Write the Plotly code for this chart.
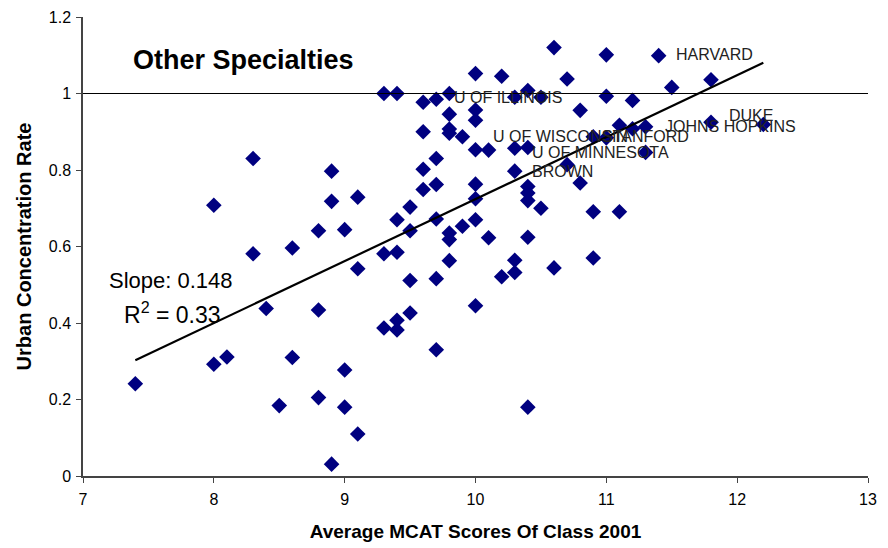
import numpy as np
import plotly.graph_objects as go

# Average MCAT score and urban concentration rate per school, grouped by MCAT score
mcat_levels = [7.4, 8.0, 8.1, 8.3, 8.4, 8.5, 8.6, 8.8, 8.9, 9.0, 9.1, 9.3, 9.4, 9.5,
               9.6, 9.7, 9.8, 9.9, 10.0, 10.1, 10.2, 10.3, 10.4, 10.5, 10.6, 10.7,
               10.8, 10.9, 11.0, 11.1, 11.2, 11.3, 11.4, 11.5, 11.8, 12.2]
urban_rates = [
    [0.241],
    [0.708, 0.292],
    [0.311],
    [0.830, 0.581],
    [0.438],
    [0.184],
    [0.596, 0.310],
    [0.641, 0.434, 0.205],
    [0.797, 0.718, 0.031],
    [0.644, 0.277, 0.180],
    [0.729, 0.542, 0.110],
    [1.000, 0.581, 0.387],
    [1.000, 0.670, 0.585, 0.407, 0.382],
    [0.703, 0.641, 0.511, 0.426],
    [0.977, 0.900, 0.802, 0.749],
    [0.985, 0.830, 0.762, 0.672, 0.516, 0.330],
    [1.000, 0.946, 0.907, 0.896, 0.635, 0.618, 0.563],
    [0.887, 0.653],
    [1.052, 0.957, 0.930, 0.853, 0.763, 0.725, 0.670, 0.445],
    [0.852, 0.623],
    [1.045, 0.521],
    [0.990, 0.857, 0.797, 0.564, 0.532],
    [1.008, 0.859, 0.757, 0.740, 0.720, 0.624, 0.180],
    [0.990, 0.700],
    [1.120, 0.544],
    [1.038, 0.814],
    [0.956, 0.766],
    [0.887, 0.691, 0.570],
    [1.101, 0.993, 0.884],
    [0.917, 0.691],
    [0.982, 0.908],
    [0.913, 0.846],
    [1.099],
    [1.016],
    [1.036, 0.925],
    [0.919],
]

# Named schools: label text and label anchor (MCAT, rate)
school_names = ["HARVARD", "U OF ILLINOIS", "U OF WISCONSIN", "STANFORD",
                "JOHNS HOPKINS", "DUKE", "U OF MINNESOTA", "BROWN"]
label_x = [11.52, 9.82, 10.12, 10.95, 11.43, 11.92, 10.42, 10.42]
label_y = [1.102, 0.990, 0.887, 0.887, 0.914, 0.942, 0.846, 0.796]

slope_text = "Slope: 0.148"
r2_text = "R<sup>2</sup> = 0.33"

x_vals = [x for x, ys in zip(mcat_levels, urban_rates) for _ in ys]
y_vals = [y for ys in urban_rates for y in ys]

# Least-squares trend line across the observed MCAT range
coef = np.polyfit(x_vals, y_vals, 1)
trend_x = [min(x_vals), max(x_vals)]
trend_y = [float(np.polyval(coef, v)) for v in trend_x]

FONT = "Arial, Liberation Sans, Helvetica, sans-serif"

fig = go.Figure()
fig.add_trace(go.Scatter(
    x=x_vals, y=y_vals, mode="markers",
    marker=dict(symbol="diamond", size=12, color="#000080", line=dict(width=0)),
    showlegend=False, hoverinfo="x+y",
))
fig.add_trace(go.Scatter(
    x=trend_x, y=trend_y, mode="lines",
    line=dict(color="black", width=2.2),
    showlegend=False, hoverinfo="skip",
))

# Reference line at a concentration rate of 1
fig.add_hline(y=1, line=dict(color="black", width=1))

for name, lx, ly in zip(school_names, label_x, label_y):
    fig.add_annotation(x=lx, y=ly, text=name, showarrow=False, xanchor="left",
                       yanchor="middle", font=dict(family=FONT, size=16, color="#222222"))

fig.add_annotation(xref="paper", yref="paper", x=0.061, y=0.906, text="<b>Other Specialties</b>",
                   showarrow=False, xanchor="left", yanchor="middle",
                   font=dict(family=FONT, size=27, color="black"))
fig.add_annotation(xref="paper", yref="paper", x=0.030, y=0.425, text=slope_text,
                   showarrow=False, xanchor="left", yanchor="middle",
                   font=dict(family=FONT, size=22, color="black"))
fig.add_annotation(xref="paper", yref="paper", x=0.050, y=0.355, text=r2_text,
                   showarrow=False, xanchor="left", yanchor="middle",
                   font=dict(family=FONT, size=23, color="black"))

axis_common = dict(
    showgrid=False, zeroline=False, showline=True, linecolor="#444444", linewidth=1.5,
    ticks="outside", ticklen=5, tickcolor="#444444", tickwidth=1,
    tickfont=dict(family=FONT, size=16, color="black"),
)

fig.update_xaxes(range=[7, 13], dtick=1, tick0=7, ticklabelstandoff=3,
                 title=dict(text="<b>Average MCAT Scores Of Class 2001</b>",
                            font=dict(family=FONT, size=19, color="black"), standoff=18),
                 **axis_common)
fig.update_yaxes(range=[0, 1.2], dtick=0.2, tick0=0, ticklabelstandoff=2,
                 title=dict(text="<b>Urban Concentration Rate</b>",
                            font=dict(family=FONT, size=20, color="black"), standoff=12),
                 **axis_common)

fig.update_layout(
    width=888, height=548,
    margin=dict(l=83, r=20, t=17, b=72, autoexpand=False),
    paper_bgcolor="white", plot_bgcolor="white",
    font=dict(family=FONT),
)

fig.write_html("out.html")
